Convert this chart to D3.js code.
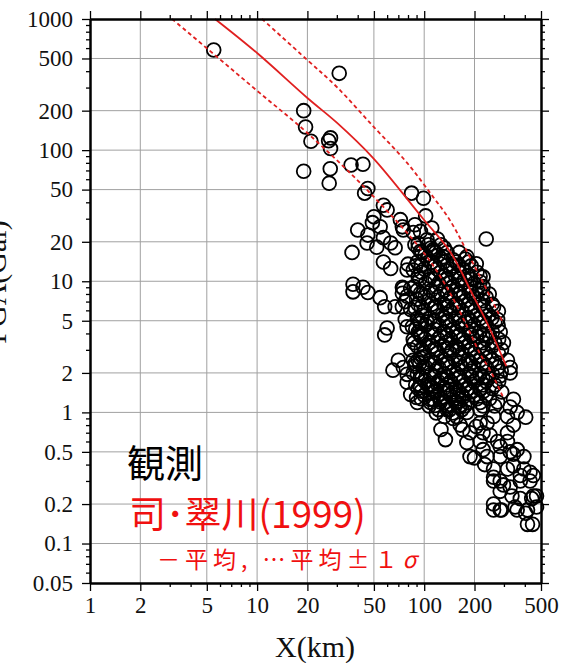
<!DOCTYPE html>
<html>
<head>
<meta charset="utf-8">
<script src="https://d3js.org/d3.v7.min.js"></script>
<style>
    body { margin: 0; background: #fff; }
</style>
</head>
<body>
<svg id="chart" width="570" height="663"></svg>
<script>
// tick labels
const xTickLabels = [1, 2, 5, 10, 20, 50, 100, 200, 500];
const yTickLabels = [0.05, 0.1, 0.2, 0.5, 1, 2, 5, 10, 20, 50, 100, 200, 500, 1000];

// Si & Midorikawa (1999): mean and mean +/- 1 sigma [X km, PGA gal]
const meanCurve = [[5.6, 1000], [10, 550], [20, 250], [30, 162], [49.5, 87], [98.5, 30], [143, 16.8],
    [196, 7.8], [238, 4.8], [310, 2.25]];
const upperCurve = [[10.7, 1000], [20, 486], [30, 303], [50, 150], [79, 80], [113, 44], [143, 29],
    [196, 13.7], [238, 8.5], [297, 4.8]];
const lowerCurve = [[3.1, 1000], [5.8, 510], [10.4, 272], [20, 135], [47.5, 47],
    [104, 15.3], [143, 8.1], [181, 4.5], [216, 2.8], [248, 2.1], [297, 1.3]];

// observed records [X km, PGA gal]
const obsSparse = [[5.5, 580], [31, 385], [19, 200], [19.5, 150], [21, 117], [26.8, 118], [27.5, 124], [27.5, 103],
    [19, 69], [27.4, 72], [27, 56], [36.5, 77], [43, 78], [46, 51], [44, 47], [84, 47], [99, 43], [235, 21]];
const obsUpper = [[57, 38], [60, 35], [50, 31], [49, 28], [40, 24.6], [46, 22.5], [54.5, 26], [57, 21.5],
    [72, 29.5], [75, 24.6], [88, 27], [95, 24], [63, 19.6], [67, 18], [37, 16.6], [45.5, 19.6], [52, 18.2],
    [63, 12.5], [80, 13.5], [86, 12.2], [37.5, 9.5], [43, 9], [74, 9], [102, 31.5], [111, 25.5], [120, 21], [92, 19.5],
    [74, 26], [86, 23.5], [104, 20.7], [113, 17.4], [130, 15.4], [149, 14.6], [180, 15.4], [205, 13.6],
    [225, 10.8], [216, 9.9], [79, 12.2], [83, 8.8]];
const obsMid = [[46, 8.2], [54.5, 7.5], [58, 6.4], [67, 6.4], [79, 7.7], [85, 4.5], [60, 4.4], [58, 3.9],
    [65, 2.1], [79, 1.95], [79, 1.7], [83, 1.37], [95, 2.6], [88, 2.25], [120, 1.65], [108, 1.26], [125, 1.26],
    [57, 14], [75, 8.8], [77, 7], [95, 4], [83, 3], [99, 2.2], [86, 2.5], [108, 1.6], [137, 1.45], [157, 1.2],
    [170, 1.3], [180, 1.5], [37.5, 8.3], [74, 8.1], [83, 6.1], [90, 7.3], [77, 5.1], [86, 3.6], [70, 2.5],
    [75, 2.2], [95, 1.55], [90, 1.3], [74, 6.4], [79, 4.5], [95, 4.8], [260, 6.4], [275, 5.1], [285, 4.1],
    [298, 3.4], [315, 2.5], [327, 2.2], [285, 1.9], [327, 2.0]];
const obsCore = [
    [88, 19], [89, 13.1], [87, 9.1], [88, 6.3], [89, 4.3], [87, 3.4], [88, 2.35], [89, 1.62],
    [97, 16.6], [96, 11.7], [98, 8.0], [97, 5.5], [96, 3.8], [98, 2.65], [97, 1.83], [96, 1.27],
    [106, 19], [105, 14.8], [107, 10.3], [106, 7.1], [104, 4.9], [107, 3.4], [106, 2.35], [105, 1.62], [107, 1.12],
    [117, 16.6], [116, 13.1], [118, 9.1], [117, 6.3], [115, 4.3], [118, 3.0], [117, 2.07], [116, 1.43], [118, 0.99],
    [126, 19], [127, 14.8], [125, 11.7], [126, 8.0], [128, 5.5], [125, 3.8], [126, 2.65], [127, 1.83], [125, 1.27],
    [137, 16.6], [136, 10.3], [138, 7.1], [137, 4.9], [135, 3.4], [138, 2.35], [137, 1.62], [136, 1.12],
    [149, 13.1], [148, 9.1], [150, 6.3], [149, 4.3], [147, 3.0], [150, 2.07], [149, 1.43], [148, 0.99],
    [162, 16.6], [161, 11.7], [163, 8.0], [162, 5.5], [160, 3.8], [163, 2.65], [162, 1.83], [161, 1.27],
    [176, 14.8], [175, 10.3], [177, 7.1], [176, 4.9], [174, 3.4], [177, 2.35], [176, 1.62], [175, 1.12],
    [191, 13.1], [190, 9.1], [192, 6.3], [191, 4.3], [189, 3.0], [192, 2.07], [191, 1.43],
    [207, 11.7], [206, 8.0], [208, 5.5], [207, 3.8], [205, 2.65], [208, 1.83], [207, 1.27],
    [225, 9.1], [224, 7.1], [226, 4.9], [225, 3.4], [223, 2.35], [226, 1.62], [225, 1.12],
    [245, 8.0], [244, 5.5], [246, 3.8], [245, 2.65], [243, 1.83], [246, 1.27],
    [265, 4.9], [264, 3.4], [266, 2.35], [265, 1.62], [264, 1.12],
    [290, 3.0], [289, 2.07], [291, 1.43]];
const obsCoreFill = [
    [92, 17.9], [91, 14.0], [92, 10.9], [91, 8.5], [92, 6.67], [91, 5.22], [92, 4.08], [91, 3.19], [92, 2.5], [91, 1.95], [92, 1.52], [91, 1.19],
    [101, 15.8], [100, 12.4], [102, 9.66], [101, 7.55], [100, 5.9], [102, 4.62], [101, 3.61], [100, 2.82], [102, 2.21], [101, 1.72], [100, 1.35],
    [110, 17.9], [111, 14.0], [109, 10.9], [110, 8.5], [111, 6.67], [109, 5.22], [110, 4.08], [111, 3.19], [109, 2.5], [110, 1.95], [111, 1.52], [109, 1.19],
    [121, 15.8], [120, 12.4], [122, 9.66], [121, 7.55], [120, 5.9], [122, 4.62], [121, 3.61], [120, 2.82], [122, 2.21], [121, 1.72], [120, 1.35], [122, 1.05],
    [132, 17.9], [131, 14.0], [133, 10.9], [132, 8.5], [131, 6.67], [133, 5.22], [132, 4.08], [131, 3.19], [133, 2.5], [132, 1.95], [131, 1.52], [133, 1.19], [132, 0.93],
    [143, 12.4], [142, 9.66], [144, 7.55], [143, 5.9], [142, 4.62], [144, 3.61], [143, 2.82], [142, 2.21], [144, 1.72], [143, 1.35], [142, 1.05],
    [155, 14.0], [154, 10.9], [156, 8.5], [155, 6.67], [154, 5.22], [156, 4.08], [155, 3.19], [154, 2.5], [156, 1.95], [155, 1.52], [154, 1.19], [156, 0.93],
    [169, 12.4], [168, 9.66], [170, 7.55], [169, 5.9], [168, 4.62], [170, 3.61], [169, 2.82], [168, 2.21], [170, 1.72], [169, 1.35], [168, 1.05],
    [184, 14.0], [183, 10.9], [185, 8.5], [184, 6.67], [183, 5.22], [185, 4.08], [184, 3.19], [183, 2.5], [185, 1.95], [184, 1.52], [183, 1.19],
    [199, 9.66], [198, 7.55], [200, 5.9], [199, 4.62], [198, 3.61], [200, 2.82], [199, 2.21], [198, 1.72], [200, 1.35],
    [216, 10.9], [215, 8.5], [217, 6.67], [216, 5.22], [215, 4.08], [217, 3.19], [216, 2.5], [215, 1.95], [217, 1.52], [216, 1.19],
    [235, 7.55], [234, 5.9], [236, 4.62], [235, 3.61], [234, 2.82], [236, 2.21], [235, 1.72], [234, 1.35],
    [255, 6.67], [254, 5.22], [256, 4.08], [255, 3.19], [254, 2.5], [256, 1.95], [255, 1.52],
    [278, 5.9], [277, 4.62], [279, 3.61], [278, 2.82], [277, 2.21], [279, 1.72]];
const obsCoreDense = [
    [95, 16.9], [96, 13.3], [94, 10.4], [95, 8.1], [96, 6.33], [94, 4.95], [95, 3.87], [96, 3.03], [94, 2.37], [95, 1.85], [96, 1.45],
    [114, 16.9], [115, 13.3], [116, 10.4], [114, 8.1], [115, 6.33], [116, 4.95], [114, 3.87], [115, 3.03], [116, 2.37], [114, 1.85], [115, 1.45], [116, 1.13],
    [137, 13.3], [136, 10.4], [138, 8.1], [137, 6.33], [136, 4.95], [138, 3.87], [137, 3.03], [136, 2.37], [138, 1.85], [137, 1.45], [136, 1.13],
    [161, 13.3], [163, 10.4], [162, 8.1], [161, 6.33], [163, 4.95], [162, 3.87], [161, 3.03], [163, 2.37], [162, 1.85], [161, 1.45], [163, 1.13],
    [190, 10.4], [192, 8.1], [191, 6.33], [190, 4.95], [192, 3.87], [191, 3.03], [190, 2.37], [192, 1.85], [191, 1.45],
    [224, 8.1], [226, 6.33], [225, 4.95], [224, 3.87], [226, 3.03], [225, 2.37], [224, 1.85], [226, 1.45]];
const obsLower = [[113, 1.26], [125, 1.2], [137, 1.05], [149, 0.9], [164, 0.8], [170, 0.74], [180, 0.59],
    [188, 0.46], [275, 1.2], [360, 1.0], [405, 0.92], [342, 0.8], [315, 0.7], [238, 0.83], [248, 0.67],
    [275, 0.6], [238, 0.46], [285, 0.46], [342, 0.48], [395, 0.46], [360, 0.52], [260, 0.37], [315, 0.37],
    [395, 0.37], [430, 0.35], [285, 0.3], [327, 0.27], [376, 0.3], [450, 0.23], [260, 0.2], [285, 0.18],
    [350, 0.19], [405, 0.17], [470, 0.19], [216, 0.83], [225, 0.7], [225, 0.52], [260, 0.32], [285, 0.25],
    [327, 0.5], [285, 0.55], [315, 0.6], [342, 0.39], [376, 0.33], [430, 0.3], [450, 0.33], [86, 2.0],
    [127, 1.78], [143, 1.5], [157, 1.35], [164, 1.1], [180, 1.0], [205, 0.78], [216, 1.05], [260, 0.93],
    [315, 0.93], [327, 1.1], [342, 1.26], [216, 1.5], [188, 0.7], [216, 0.6], [200, 0.45], [230, 0.4],
    [126, 0.74], [134, 0.62], [260, 0.3], [298, 0.28], [260, 0.18], [290, 0.18], [335, 0.23], [376, 0.22],
    [360, 0.18], [415, 0.18], [415, 0.14], [445, 0.14], [440, 0.22], [470, 0.23]];

const observed = obsSparse.concat(obsUpper, obsMid, obsCore, obsCoreFill, obsCoreDense, obsLower);

const svg = d3.select("#chart");
const plotLeft = 90, plotRight = 541, plotTop = 19, plotBottom = 583;
const red = "#e02020";
const serif = "'Liberation Serif', 'DejaVu Serif', serif";
const cjk = "'Noto Sans CJK JP', sans-serif";

const x = d3.scaleLog().domain([1, 500]).range([plotLeft, plotRight]);
const y = d3.scaleLog().domain([0.05, 1000]).range([plotBottom, plotTop]);

// grid
const grid = svg.append("g");
grid.selectAll(".gx").data(xTickLabels.slice(1, -1)).join("line")
    .attr("x1", d => x(d)).attr("x2", d => x(d))
    .attr("y1", plotTop).attr("y2", plotBottom)
    .attr("stroke", "#a0a0a0").attr("stroke-width", 1);
grid.selectAll(".gy").data(yTickLabels.slice(1, -1)).join("line")
    .attr("x1", plotLeft).attr("x2", plotRight)
    .attr("y1", d => y(d)).attr("y2", d => y(d))
    .attr("stroke", "#a0a0a0").attr("stroke-width", 1);

// observations
svg.append("g").selectAll("circle").data(observed).join("circle")
    .attr("cx", d => x(d[0])).attr("cy", d => y(d[1]))
    .attr("r", 6.9)
    .attr("fill", "none").attr("stroke", "#000").attr("stroke-width", 1.8);

// curves
const line = d3.line().x(d => x(d[0])).y(d => y(d[1])).curve(d3.curveCatmullRom.alpha(0.5));
svg.append("path").datum(meanCurve).attr("d", line)
    .attr("fill", "none").attr("stroke", red).attr("stroke-width", 1.8);
[upperCurve, lowerCurve].forEach(c => {
    svg.append("path").datum(c).attr("d", line)
        .attr("fill", "none").attr("stroke", red).attr("stroke-width", 1.8)
        .attr("stroke-dasharray", "4,3");
});

// axes
const xMinor = x.ticks().filter(d => !xTickLabels.includes(d));
const yMinor = y.ticks().filter(d => !yTickLabels.some(v => Math.abs(v - d) < 1e-9));

function styleAxis(g) {
    g.select(".domain").attr("stroke", "#000").attr("stroke-width", 2);
    g.selectAll(".tick line").attr("stroke", "#000").attr("stroke-width", 1.3);
    g.selectAll("text").attr("font-family", serif).attr("font-size", 23).attr("fill", "#111");
}

svg.append("g").attr("transform", `translate(0,${plotBottom})`)
    .call(d3.axisBottom(x).tickValues(xTickLabels).tickSize(8).tickSizeOuter(0).tickPadding(6)
        .tickFormat(d => String(d)))
    .call(styleAxis);
svg.append("g").attr("transform", `translate(0,${plotBottom})`)
    .call(d3.axisBottom(x).tickValues(xMinor).tickSize(4).tickSizeOuter(0).tickFormat(""))
    .call(styleAxis);
svg.append("g").attr("transform", `translate(0,${plotTop})`)
    .call(d3.axisTop(x).tickValues(xTickLabels).tickSize(8).tickSizeOuter(0).tickFormat(""))
    .call(styleAxis);
svg.append("g").attr("transform", `translate(0,${plotTop})`)
    .call(d3.axisTop(x).tickValues(xMinor).tickSize(4).tickSizeOuter(0).tickFormat(""))
    .call(styleAxis);

svg.append("g").attr("transform", `translate(${plotLeft},0)`)
    .call(d3.axisLeft(y).tickValues(yTickLabels).tickSize(8).tickSizeOuter(0).tickPadding(9)
        .tickFormat(d => String(d)))
    .call(styleAxis);
svg.append("g").attr("transform", `translate(${plotLeft},0)`)
    .call(d3.axisLeft(y).tickValues(yMinor).tickSize(4).tickSizeOuter(0).tickFormat(""))
    .call(styleAxis);
svg.append("g").attr("transform", `translate(${plotRight},0)`)
    .call(d3.axisRight(y).tickValues(yTickLabels).tickSize(8).tickSizeOuter(0).tickFormat(""))
    .call(styleAxis);
svg.append("g").attr("transform", `translate(${plotRight},0)`)
    .call(d3.axisRight(y).tickValues(yMinor).tickSize(4).tickSizeOuter(0).tickFormat(""))
    .call(styleAxis);

// axis titles (the y title is clipped by the left edge, as in the original)
svg.append("text").attr("x", 315).attr("y", 657).attr("text-anchor", "middle")
    .attr("font-family", serif).attr("font-size", 30).attr("fill", "#111").text("X(km)");
svg.append("text").attr("transform", "translate(6,282) rotate(-90)").attr("text-anchor", "middle")
    .attr("font-family", serif).attr("font-size", 30).attr("fill", "#111").text("PGA(Gal)");

// legend text
svg.append("text").attr("x", 127).attr("y", 477)
    .attr("font-family", cjk).attr("font-size", 38).attr("fill", "#000").text("観測");
svg.append("text").attr("x", 129).attr("y", 528)
    .attr("font-family", cjk).attr("font-size", 37).attr("fill", "#f01010").text("司･翠川(1999)");
const note = svg.append("text").attr("x", 157).attr("y", 568)
    .attr("font-family", cjk).attr("font-size", 23).attr("letter-spacing", 5).attr("fill", "#f01010");
note.append("tspan").text("－平均, …平均±１");
note.append("tspan").attr("font-style", "italic").text("σ");
</script>
</body>
</html>
